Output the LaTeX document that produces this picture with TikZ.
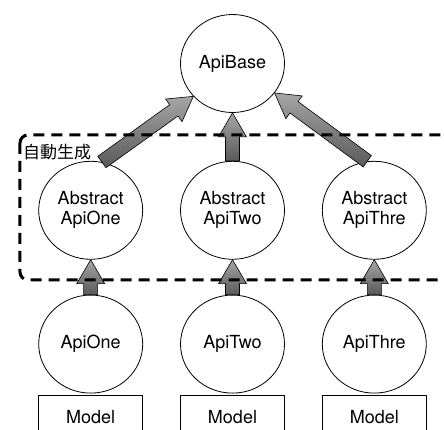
\documentclass[tikz,border=0pt]{standalone}
\usepackage{fontspec}
\setmainfont{TeX Gyre Heros}
\newfontfamily\jpfont{Noto Sans CJK JP}
\usetikzlibrary{calc, positioning, shapes.geometric}

\begin{document}
\begin{tikzpicture}[
    x=1pt, y=1pt,
    node distance=48pt and 37pt,
    api/.style={draw, ellipse, line width=0.8pt, inner sep=0pt,
                minimum width=104pt, minimum height=98pt, align=center,
                font=\fontsize{18}{20}\selectfont},
    model/.style={draw, rectangle, line width=0.8pt,
                  minimum width=104pt, minimum height=44pt,
                  font=\fontsize{18}{20}\selectfont},
    fatarr/.style={draw=black, line width=0.6pt, top color=black!35, bottom color=black!65,
      to path={let \p1=(\tikztostart), \p2=(\tikztotarget),
                   \n1={atan2(\y2-\y1,\x2-\x1)}, \n2={veclen(\x2-\x1,\y2-\y1)-24}
               in (\p1) ++(\n1+90:7pt) -- ++(\n1:\n2) -- ++(\n1+90:7pt) -- (\p2)
                  -- ($(\p2)+(\n1+180:24pt)+(\n1-90:14pt)$) -- ++(\n1+90:7pt)
                  -- ++(\n1+180:\n2) -- cycle}},
    groupbox/.style={draw, line width=3pt, dash pattern=on 11pt off 7pt, rounded corners=8pt}
  ]
    \clip (-232.5,63.5) rectangle (211.5,-366.5);

    \node[api] (base) at (0,0) {ApiBase};
    \node[api, below=of base] (abs2) {Abstract\\ApiTwo};
    \node[api, left=of abs2] (abs1) {Abstract\\ApiOne};
    \node[api, right=of abs2] (abs3) {Abstract\\ApiThre};
    \node[api, below=35pt of abs1] (api1) {ApiOne};
    \node[api, below=35pt of abs2] (api2) {ApiTwo};
    \node[api, below=35pt of abs3] (api3) {ApiThre};
    \node[model, below=1pt of api1] (m1) {Model};
    \node[model, below=1pt of api2] (m2) {Model};
    \node[model, below=1pt of api3] (m3) {Model};

    \draw[fatarr] (api1.north) to (abs1.south);
    \draw[fatarr] (api2.north) to (abs2.south);
    \draw[fatarr] (api3.north) to (abs3.south);
    \draw[fatarr] (abs1.77) to (base.220);
    \draw[fatarr] (abs2.north) to (base.south);
    \draw[fatarr] (abs3.98) to (base.325);

    \draw[groupbox] (-212.5,-71.5) rectangle (240,-216.5);
    \node[anchor=west, font=\jpfont\fontsize{17}{17}\selectfont, inner sep=0pt] (gen) at (-209.5,-88.5) {自動生成};
\end{tikzpicture}
\end{document}
